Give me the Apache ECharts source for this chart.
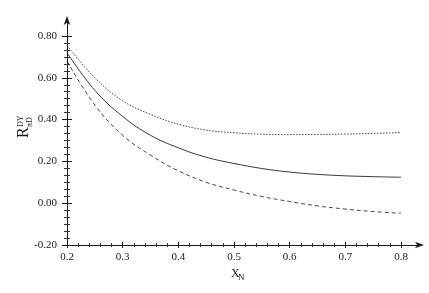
<!DOCTYPE html>
<html><head><meta charset="utf-8">
<script src="https://cdn.jsdelivr.net/npm/echarts@6/dist/echarts.min.js"></script>
<style>html,body{margin:0;padding:0;background:#fff}#c{width:429px;height:293px}</style>
</head><body><div id="c"></div>
<script>
// ---- data ----
const xValues      = [0.2, 0.25, 0.3, 0.35, 0.4, 0.45, 0.5, 0.55, 0.6, 0.65, 0.7, 0.75, 0.8];
const dottedSeries = [0.755, 0.60, 0.49, 0.425, 0.378, 0.35, 0.337, 0.33, 0.328, 0.329, 0.331, 0.334, 0.338];
const solidSeries  = [0.72, 0.54, 0.415, 0.325, 0.265, 0.22, 0.19, 0.166, 0.149, 0.138, 0.131, 0.127, 0.124];
const dashedSeries = [0.68, 0.47, 0.325, 0.23, 0.155, 0.10, 0.063, 0.032, 0.008, -0.013, -0.028, -0.04, -0.048];
// axis ranges / tick spacing
const xRange = [0.2, 0.8], xInterval = 0.1, xMinorSplit = 5;
const yRange = [-0.2, 0.8], yInterval = 0.2, yMinorSplit = 6;
// ---------------

const FONT = '"Liberation Serif", "Times New Roman", serif';
const INK = '#1a1a1a';

const chart = echarts.init(document.getElementById('c'), null, { renderer: 'canvas' });
const toPairs = arr => xValues.map((x, i) => [x, arr[i]]);
const lineBase = { type: 'line', showSymbol: false, smooth: 0.4, xAxisIndex: 0, yAxisIndex: 0, silent: true, animation: false };

function tickAxis(kind, inside, withLabels) {
  const isX = kind === 'x';
  const r = isX ? xRange : yRange;
  return {
    type: 'value', gridIndex: 0, min: r[0], max: r[1],
    interval: isX ? xInterval : yInterval,
    position: isX ? 'bottom' : 'left',
    splitLine: { show: false },
    axisLine: { show: false, onZero: false },
    axisTick: { show: true, inside: inside, length: isX ? 3 : 5, lineStyle: { color: INK, width: 1 } },
    minorTick: { show: true, splitNumber: isX ? xMinorSplit : yMinorSplit, length: isX ? 2 : 3, lineStyle: { color: '#333', width: 1 } },
    axisLabel: withLabels ? {
      show: true, margin: isX ? 7 : 10, fontFamily: FONT, fontSize: 11, color: INK,
      formatter: v => isX ? v.toFixed(1) : v.toFixed(2)
    } : { show: false }
  };
}

chart.setOption({
  animation: false,
  grid: [
    { left: 67, right: 28, top: 36, bottom: 48 },   // data area
    { left: 67, right: 9, top: 20, bottom: 48 }     // frame with arrowed axis lines
  ],
  xAxis: [
    tickAxis('x', false, true),
    tickAxis('x', true, false),
    { type: 'value', gridIndex: 1, min: 0, max: 1, splitLine: { show: false }, axisTick: { show: false }, axisLabel: { show: false },
      axisLine: { show: true, onZero: false, lineStyle: { color: INK, width: 1 }, symbol: ['none', 'arrow'], symbolSize: [5, 9], symbolOffset: [0, 4] } }
  ],
  yAxis: [
    tickAxis('y', false, true),
    tickAxis('y', true, false),
    { type: 'value', gridIndex: 1, min: 0, max: 1, splitLine: { show: false }, axisTick: { show: false }, axisLabel: { show: false },
      axisLine: { show: true, onZero: false, lineStyle: { color: INK, width: 1 }, symbol: ['none', 'arrow'], symbolSize: [5, 9], symbolOffset: [0, 4] } }
  ],
  series: [
    Object.assign({}, lineBase, { data: toPairs(dottedSeries), lineStyle: { color: '#333', width: 0.9, type: [1.5, 1.5] } }),
    Object.assign({}, lineBase, { data: toPairs(solidSeries), lineStyle: { color: '#222', width: 0.9, type: 'solid' } }),
    Object.assign({}, lineBase, { data: toPairs(dashedSeries), lineStyle: { color: '#333', width: 0.9, type: [4, 3] } })
  ],
  graphic: [
    {
      type: 'group', x: 32, y: 138, rotation: Math.PI / 2,
      children: [
        { type: 'text', x: 0, y: 0, style: { text: 'R', font: '16px ' + FONT, fill: INK, textVerticalAlign: 'bottom', textAlign: 'left' } },
        { type: 'text', x: 11, y: -7, style: { text: 'DY', font: '8px ' + FONT, fill: INK, textVerticalAlign: 'bottom', textAlign: 'left' } },
        { type: 'text', x: 11, y: 2, style: { text: 'πD', font: '8px ' + FONT, fill: INK, textVerticalAlign: 'bottom', textAlign: 'left' } }
      ]
    },
    {
      type: 'group', x: 231, y: 268,
      children: [
        { type: 'text', x: 0, y: 0, style: { text: 'X', font: '12px ' + FONT, fill: INK, textVerticalAlign: 'top', textAlign: 'left' } },
        { type: 'text', x: 7, y: 5, style: { text: 'N', font: '9px ' + FONT, fill: INK, textVerticalAlign: 'top', textAlign: 'left' } }
      ]
    }
  ]
});
</script>
</body></html>
